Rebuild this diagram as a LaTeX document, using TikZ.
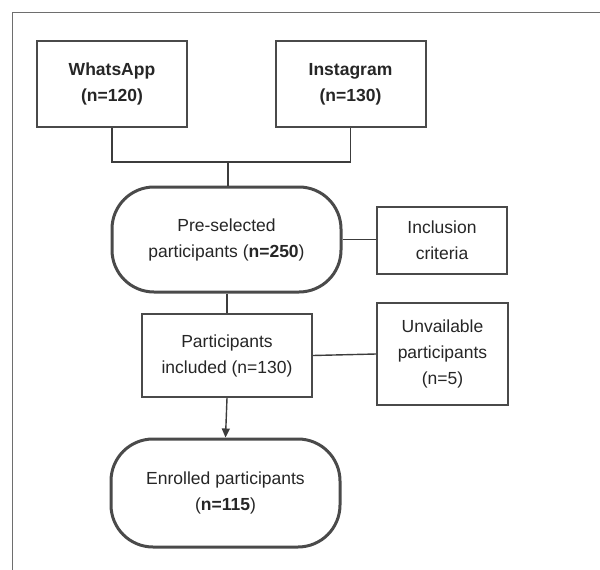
\documentclass[tikz,border=0pt]{standalone}
\usepackage{fontspec}
\setmainfont{Liberation Sans}
\usetikzlibrary{arrows.meta}
\definecolor{bordc}{HTML}{4A4A4A}
\definecolor{linec}{HTML}{3C3C3C}
\tikzset{
  box/.style={draw=bordc, line width=2pt, fill=white, align=center, inner sep=0pt, font=\fontsize{17.5}{26}\selectfont, text=black!85},
  stadium/.style={draw=bordc, line width=3pt, rounded corners=42pt, fill=white, align=center, inner sep=0pt, font=\fontsize{17.5}{26}\selectfont, text=black!85},
  conn/.style={draw=linec, line width=1.4pt},
  frame/.style={draw=bordc!80, line width=1.6pt}
}
\begin{document}
\begin{tikzpicture}[x=1pt,y=-1pt]
\useasboundingbox (0,0) rectangle (600,570);
\coordinate (fbl) at (12.5,570);
\coordinate (ftl) at (12.5,12.5);
\coordinate (ftr) at (600,12.5);
\draw[frame] (fbl) -- (ftl) -- (ftr);

\node[box, minimum width=150pt, minimum height=86pt] (wa) at (112,84) {\textbf{WhatsApp}\\\textbf{(n=120)}};
\node[box, minimum width=150pt, minimum height=86pt] (ig) at (350.5,84) {\textbf{Instagram}\\\textbf{(n=130)}};
\node[stadium, minimum width=229pt, minimum height=105pt] (pre) at (226.5,239.5) {Pre-selected\\participants (\textbf{n=250})};
\node[box, minimum width=130pt, minimum height=67pt] (inc) at (442,240.5) {Inclusion\\criteria};
\node[box, minimum width=170pt, minimum height=83pt] (pinc) at (227,355.5) {Participants\\included (n=130)};
\node[box, minimum width=131pt, minimum height=102pt] (unv) at (442.5,354) {Unvailable\\participants\\(n=5)};
\node[stadium, minimum width=229pt, minimum height=108pt] (enr) at (225.5,493) {Enrolled participants\\(\textbf{n=115})};

\coordinate (j1) at (112,162);
\coordinate (j2) at (350.5,162);
\coordinate (jm) at (228,162);
\draw[conn] (wa.south) -- (j1) -- (j2) -- (ig.south);
\draw[conn] (jm) -- (pre.north -| jm);
\draw[conn] (pre.east) -- (inc.west |- pre.east);
\draw[conn] (pre.south -| pinc.north) -- (pinc.north);
\draw[conn] (pinc.east) -- (unv.west);
\draw[conn, -{Triangle[length=9pt,width=8pt]}] (pinc.south) -- (enr.north);
\end{tikzpicture}
\end{document}
